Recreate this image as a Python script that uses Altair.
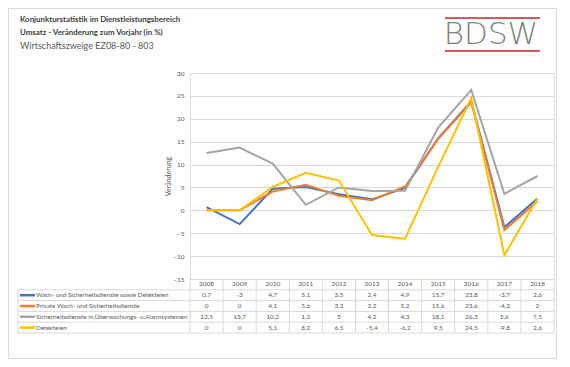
import altair as alt
import pandas as pd

# ---------------- data ----------------
years = [2008, 2009, 2010, 2011, 2012, 2013, 2014, 2015, 2016, 2017, 2018]
series_names = [
    "Wach- und Sicherheitsdienste sowie Detekteien",
    "Private Wach- und Sicherheitsdienste",
    "Sicherheitsdienste m.Überwachungs- u.Alarmsystemen",
    "Detekteien",
]
wach_sicherheit_detekteien = [0.7, -3, 4.7, 5.1, 3.5, 2.4, 4.9, 15.7, 23.8, -3.7, 2.6]
private_wach = [0, 0, 4.1, 5.6, 3.2, 2.2, 5.2, 15.6, 23.6, -4.3, 2]
alarmsysteme = [12.5, 13.7, 10.2, 1.2, 5, 4.2, 4.3, 18.1, 26.3, 3.6, 7.5]
detekteien = [0, 0, 5.1, 8.2, 6.5, -5.4, -6.2, 9.5, 24.5, -9.8, 2.6]
series_values = [wach_sicherheit_detekteien, private_wach, alarmsysteme, detekteien]
colors = ["#4472C4", "#ED7D31", "#A5A5A5", "#FFC000"]
y_ticks = [-15, -10, -5, 0, 5, 10, 15, 20, 25, 30]
title_lines = [
    "Konjunkturstatistik im Dienstleistungsbereich",
    "Umsatz - Veränderung zum Vorjahr (in %)",
    "Wirtschaftszweige EZ08-80 - 803",
]
y_title = "Veränderung"
logo_text = "BDSW"

# ---------------- tables ----------------
rows = []
for i, (name, vals) in enumerate(zip(series_names, series_values)):
    for yr, v in zip(years, vals):
        rows.append({
            "series": name,
            "year": yr,
            "value": v,
            "label": f"{v:g}".replace(".", ","),
            "row": i + 1.5,
        })
df = pd.DataFrame(rows)
legend_df = pd.DataFrame({"series": series_names, "row": [i + 1.5 for i in range(len(series_names))]})
header_df = pd.DataFrame({"year": years, "row": 0.5})
hlines_df = pd.DataFrame({"b": [1, 2, 3, 4, 5]})
vlines_df = pd.DataFrame({"x": [years[0] - 0.5 + k for k in range(len(years) + 1)], "y0": 0, "y1": 5})
leftline_df = pd.DataFrame({"y0": [1], "y1": [5]})

W, H = 364, 206
TXT = "#595959"
GRID = "#D9D9D9"
FONT = "Lato"

xs = alt.Scale(domain=[years[0] - 0.5, years[-1] + 0.5], nice=False, zero=False)
ys_line = alt.Scale(domain=[-15, 30], nice=False, zero=False)
ys_tab = alt.Scale(domain=[0, 5], range=[H, H + 54], nice=False, zero=False)
cs = alt.Scale(domain=series_names, range=colors)

lines = alt.Chart(df).mark_line(strokeWidth=2).encode(
    x=alt.X("year:Q", scale=xs, axis=None),
    y=alt.Y(
        "value:Q",
        scale=ys_line,
        axis=alt.Axis(
            values=y_ticks, grid=True, gridColor=GRID, gridWidth=1, domain=False, ticks=False,
            labelFontSize=6.5, labelColor=TXT, labelFont=FONT, labelPadding=6,
            title=y_title, titleFontSize=7, titleFontWeight="normal", titleColor=TXT,
            titleFont=FONT, titleX=-22, titleY=H / 2, titleBaseline="middle", titleAngle=270,
        ),
    ),
    color=alt.Color("series:N", scale=cs, legend=None),
    detail="series:N",
)

hlines = alt.Chart(hlines_df).mark_rule(color=GRID, strokeWidth=1).encode(
    y=alt.Y("b:Q", scale=ys_tab, axis=None),
    x=alt.value(-172),
    x2=alt.value(W),
)
vlines = alt.Chart(vlines_df).mark_rule(color=GRID, strokeWidth=1).encode(
    x=alt.X("x:Q", scale=xs, axis=None),
    y=alt.Y("y0:Q", scale=ys_tab, axis=None),
    y2="y1:Q",
)
leftline = alt.Chart(leftline_df).mark_rule(color=GRID, strokeWidth=1).encode(
    x=alt.value(-172),
    y=alt.Y("y0:Q", scale=ys_tab, axis=None),
    y2="y1:Q",
)
header = alt.Chart(header_df).mark_text(fontSize=6.5, color=TXT, font=FONT, baseline="middle").encode(
    x=alt.X("year:Q", scale=xs, axis=None),
    y=alt.Y("row:Q", scale=ys_tab, axis=None),
    text=alt.Text("year:N"),
)
cells = alt.Chart(df).mark_text(fontSize=6.5, color=TXT, font=FONT, baseline="middle").encode(
    x=alt.X("year:Q", scale=xs, axis=None),
    y=alt.Y("row:Q", scale=ys_tab, axis=None),
    text="label:N",
)
swatch = alt.Chart(legend_df).mark_rule(strokeWidth=2.5).encode(
    x=alt.value(-170),
    x2=alt.value(-155),
    y=alt.Y("row:Q", scale=ys_tab, axis=None),
    color=alt.Color("series:N", scale=cs, legend=None),
)
leg_text = alt.Chart(legend_df).mark_text(fontSize=6.3, color=TXT, font=FONT, align="left", baseline="middle").encode(
    x=alt.value(-154),
    y=alt.Y("row:Q", scale=ys_tab, axis=None),
    text="series:N",
)

title_df = pd.DataFrame({"t": title_lines, "i": [0, 1, 2]})
title_bold = alt.Chart(title_df[title_df.i < 2]).mark_text(
    fontSize=7.9, fontWeight="bold", color="#404040", font=FONT, align="left", baseline="middle"
).encode(
    x=alt.value(-170),
    y=alt.Y("i:Q", scale=alt.Scale(domain=[0, 2], range=[-53, -27]), axis=None),
    text="t:N",
)
title_reg = alt.Chart(title_df[title_df.i == 2]).mark_text(
    fontSize=9, color=TXT, font=FONT, align="left", baseline="middle"
).encode(
    x=alt.value(-170),
    y=alt.value(-27),
    text="t:N",
)

logo = alt.Chart(pd.DataFrame({"t": [logo_text]})).mark_text(
    fontSize=31, font="DejaVu Sans", fontWeight=200, color="#808080", align="center", baseline="middle"
).encode(x=alt.value(301), y=alt.value(-38), text="t:N")
logo_top = alt.Chart(pd.DataFrame({"k": [0]})).mark_rule(color="#C8202C", strokeWidth=1.5).encode(
    x=alt.value(255), x2=alt.value(350), y=alt.value(-55)
)
logo_bot = alt.Chart(pd.DataFrame({"k": [0]})).mark_rule(color="#C8202C", strokeWidth=1.5).encode(
    x=alt.value(255), x2=alt.value(350), y=alt.value(-22)
)
frame = alt.Chart(pd.DataFrame({"k": [0]})).mark_rect(fill="transparent", stroke=GRID, strokeWidth=1).encode(
    x=alt.value(-181.5), x2=alt.value(366.5), y=alt.value(-64.5), y2=alt.value(285.5)
)

chart = alt.layer(
    frame, hlines, vlines, leftline, lines, header, cells, swatch, leg_text,
    title_bold, title_reg, logo, logo_top, logo_bot,
).resolve_scale(y="independent").properties(
    width=W, height=H,
    padding={"left": 182, "top": 65, "right": 8, "bottom": 80},
    autosize=alt.AutoSizeParams(type="none"),
    background="white",
).configure_view(strokeWidth=0).configure(font=FONT)

chart.save("out.html", embed_options={"renderer": "svg", "actions": False})
